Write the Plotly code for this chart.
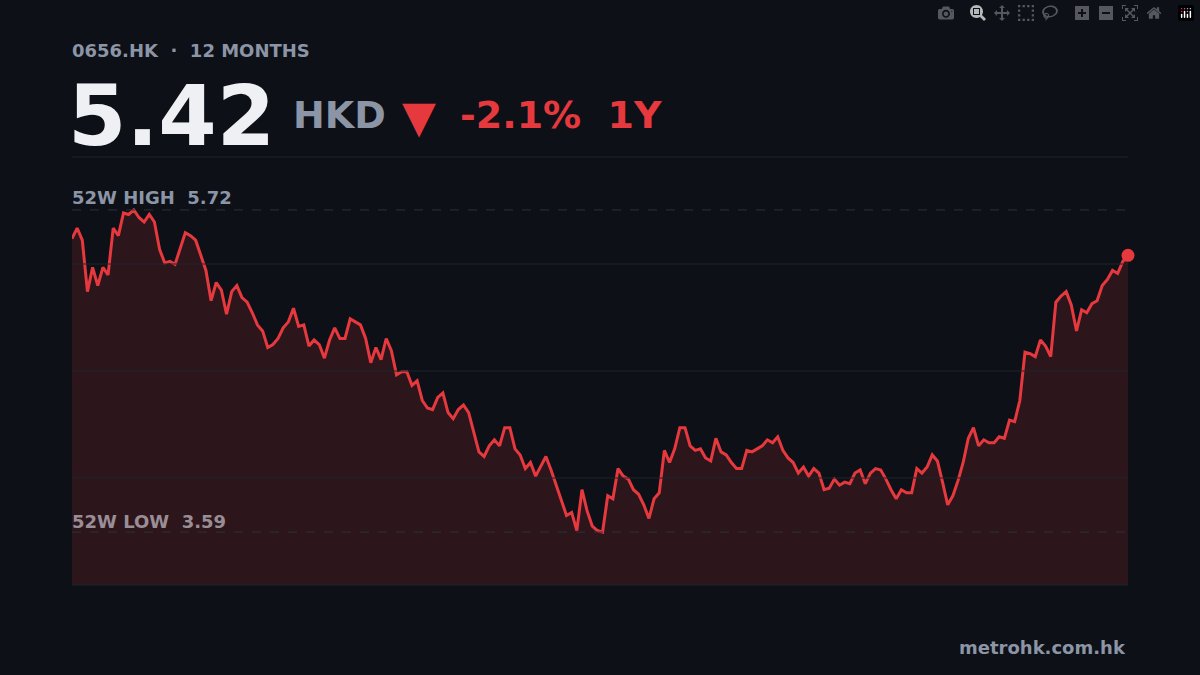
import plotly.graph_objects as go

ticker = "0656.HK"
period_label = "12 MONTHS"
last_price = 5.42
change_text = "-2.1%"
high_52w = 5.72
low_52w = 3.59

prices = [
    5.53, 5.60, 5.52, 5.18, 5.34, 5.22, 5.34, 5.29, 5.60, 5.55, 5.70, 5.69, 5.72, 5.67, 5.64, 5.69,
    5.64, 5.46, 5.37, 5.38, 5.36, 5.47, 5.57, 5.55, 5.52, 5.42, 5.32, 5.12, 5.24, 5.19, 5.03, 5.18,
    5.22, 5.14, 5.11, 5.04, 4.96, 4.92, 4.81, 4.83, 4.87, 4.94, 4.98, 5.07, 4.95, 4.96, 4.82, 4.86,
    4.83, 4.74, 4.86, 4.94, 4.87, 4.87, 5.00, 4.98, 4.96, 4.87, 4.71, 4.81, 4.73, 4.87, 4.79, 4.63,
    4.65, 4.65, 4.56, 4.59, 4.46, 4.41, 4.40, 4.48, 4.51, 4.38, 4.34, 4.40, 4.43, 4.38, 4.25, 4.12,
    4.09, 4.16, 4.20, 4.16, 4.28, 4.28, 4.14, 4.10, 4.01, 4.05, 3.96, 4.03, 4.09, 4.00, 3.90, 3.80,
    3.70, 3.72, 3.60, 3.87, 3.73, 3.63, 3.60, 3.59, 3.83, 3.81, 4.01, 3.96, 3.94, 3.87, 3.84, 3.77,
    3.68, 3.81, 3.85, 4.13, 4.05, 4.14, 4.28, 4.28, 4.16, 4.13, 4.14, 4.08, 4.06, 4.21, 4.12, 4.10,
    4.05, 4.01, 4.01, 4.13, 4.12, 4.14, 4.16, 4.20, 4.18, 4.22, 4.13, 4.08, 4.05, 3.98, 4.02, 3.96,
    4.01, 3.98, 3.87, 3.88, 3.94, 3.90, 3.92, 3.91, 3.98, 4.00, 3.91, 3.98, 4.01, 4.00, 3.94, 3.87,
    3.81, 3.87, 3.85, 3.85, 4.01, 3.98, 4.02, 4.10, 4.06, 3.92, 3.77, 3.83, 3.93, 4.05, 4.21, 4.28,
    4.16, 4.20, 4.18, 4.18, 4.22, 4.21, 4.33, 4.32, 4.46, 4.78, 4.77, 4.75, 4.86, 4.82, 4.75, 5.11,
    5.15, 5.18, 5.09, 4.92, 5.06, 5.04, 5.10, 5.12, 5.22, 5.26, 5.32, 5.30, 5.38, 5.42,
]
days = list(range(len(prices)))

BG = "#0d1017"
RED = "#e5393e"
GRAY = "#8b95a5"
FONT = "DejaVu Sans"

fig = go.Figure()
fig.add_trace(go.Scatter(
    x=days, y=prices, mode="lines",
    line=dict(color=RED, width=3),
    fill="tozeroy", fillcolor="rgba(229,57,62,0.15)",
    hoverinfo="skip",
))
fig.add_trace(go.Scatter(
    x=[days[-1]], y=[prices[-1]], mode="markers", cliponaxis=False,
    marker=dict(color=RED, size=13), hoverinfo="skip",
))

# 52w high/low dashed references
for val in (high_52w, low_52w):
    fig.add_shape(type="line", xref="paper", x0=0, x1=1, y0=val, y1=val,
                  line=dict(color="#2c323c", width=1, dash="dash"))
# horizontal grid + frame lines
for yp in (0.25, 0.5, 0.75):
    fig.add_shape(type="line", xref="paper", yref="paper", x0=0, x1=1, y0=yp, y1=yp,
                  line=dict(color="#1f242d", width=1))
fig.add_shape(type="line", xref="paper", yref="paper", x0=0, x1=1, y0=1, y1=1,
              line=dict(color="#1f242d", width=1))
fig.add_shape(type="line", xref="paper", yref="paper", x0=0, x1=1, y0=0, y1=0,
              line=dict(color="#1f242d", width=1))

def note(text, x, y, size, color, xanchor="left"):
    fig.add_annotation(text=text, xref="paper", yref="paper", x=x, y=y,
                       xanchor=xanchor, yanchor="middle", showarrow=False,
                       font=dict(family=FONT, size=size, color=color))

sp = "&nbsp;&nbsp;"
note(f"<b>{ticker}{sp}·{sp}{period_label}</b>", -0.002, 1.25, 18, GRAY)
note(f"<b>{last_price:.2f}</b>", -0.006, 1.096, 84, "#eef0f4")
note("<b>HKD</b>", 0.207, 1.098, 38, GRAY)
note("▼", 0.311, 1.094, 44, RED)
note(f"<b>{change_text}{sp}1Y</b>", 0.366, 1.098, 38, RED)
note(f"<b>52W HIGH{sp}{high_52w:.2f}</b>", -0.002, 0.9065, 18, GRAY)
note(f"<b>52W LOW{sp}{low_52w:.2f}</b>", -0.002, 0.1495, 18, "#9a8e96")
note("<b>metrohk.com.hk</b>", 1.0, -0.147, 18, GRAY, xanchor="right")

fig.update_xaxes(visible=False, range=[0, len(prices) - 1])
fig.update_yaxes(visible=False, range=[3.24, 6.07])
fig.update_layout(
    width=1200, height=675,
    paper_bgcolor=BG, plot_bgcolor=BG,
    margin=dict(l=72, r=72, t=157, b=90),
    showlegend=False,
)
fig.write_html(
    "out.html",
    post_script="document.body.style.margin='0';document.body.style.background='#0d1017';",
)
